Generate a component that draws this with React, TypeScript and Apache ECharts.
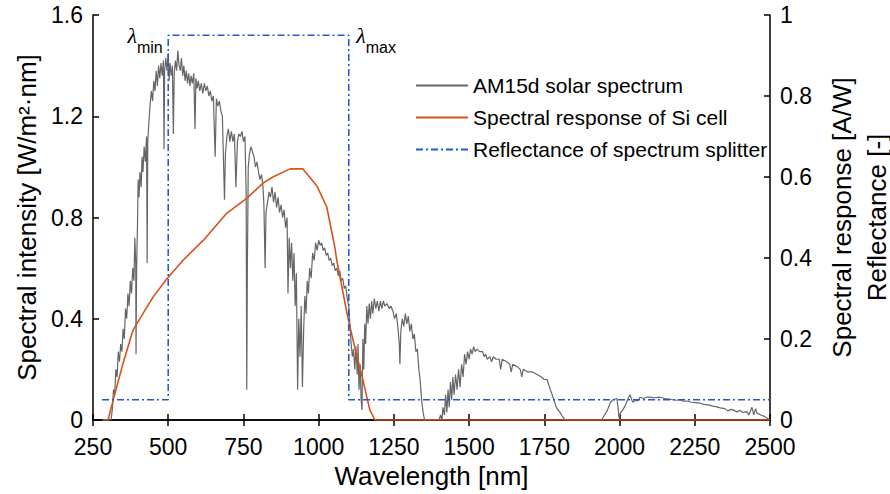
import React, { useEffect, useRef } from "react";
import * as echarts from "echarts";

// AM1.5d solar spectrum [nm, W/m²·nm]
const solarSpectrum: [number, number][] = [
  [280, 0], [300, 0], [310, 0], [315, 0.05], [318, 0.12], [322, 0.1], [326, 0.2], [330, 0.17], [334, 0.27],
  [338, 0.23], [342, 0.3], [346, 0.27], [350, 0.36], [354, 0.32], [358, 0.44], [362, 0.4], [366, 0.5],
  [370, 0.45], [374, 0.55], [378, 0.5], [382, 0.6], [386, 0.55], [389, 0.72], [392, 0.62], [393, 0.26],
  [395, 0.6], [398, 0.78], [400, 0.95], [403, 0.88], [406, 0.98], [410, 0.92], [413, 1.04], [416, 0.98],
  [420, 1.08], [424, 1.02], [428, 1.12], [430, 0.62], [432, 1.1], [436, 1.18], [440, 1.25], [444, 1.3],
  [448, 1.26], [452, 1.34], [456, 1.3], [460, 1.38], [464, 1.32], [468, 1.4], [472, 1.35], [476, 1.41],
  [480, 1.36], [484, 1.42], [486, 1.07], [488, 1.38], [492, 1.43], [496, 1.38], [500, 1.45], [503, 1.34],
  [506, 1.41], [510, 1.36], [514, 1.4], [517, 1.13], [520, 1.37], [524, 1.42], [528, 1.38], [532, 1.46],
  [536, 1.4], [540, 1.38], [544, 1.43], [548, 1.36], [552, 1.4], [556, 1.34], [560, 1.38], [564, 1.33],
  [568, 1.37], [572, 1.32], [576, 1.36], [580, 1.33], [585, 1.37], [589, 1.15], [592, 1.35], [596, 1.31],
  [600, 1.34], [605, 1.3], [610, 1.33], [615, 1.29], [620, 1.33], [625, 1.3], [630, 1.32], [635, 1.28],
  [640, 1.3], [645, 1.26], [650, 1.28], [656, 1.04], [660, 1.27], [665, 1.24], [670, 1.26], [675, 1.22],
  [680, 1.2], [687, 0.87], [690, 1.05], [695, 1.12], [700, 1.15], [705, 1.1], [710, 1.14], [715, 1.1],
  [720, 1.13], [725, 0.92], [730, 1.1], [735, 1.13], [740, 1.12], [745, 1.14], [750, 1.1], [755, 1.12],
  [759, 0.9], [761, 0.12], [763, 0.6], [766, 1.0], [770, 1.05], [775, 1.08], [780, 1.06], [785, 1.04],
  [790, 1.0], [795, 1.02], [800, 0.98], [805, 0.95], [810, 0.97], [815, 0.92], [818, 0.85], [822, 0.6],
  [825, 0.82], [830, 0.86], [835, 0.9], [840, 0.88], [845, 0.92], [850, 0.86], [855, 0.9], [860, 0.84],
  [865, 0.88], [870, 0.82], [875, 0.85], [880, 0.8], [885, 0.83], [890, 0.76], [895, 0.8], [898, 0.5],
  [902, 0.72], [906, 0.6], [910, 0.7], [914, 0.55], [918, 0.66], [922, 0.45], [926, 0.58], [930, 0.12],
  [934, 0.4], [938, 0.25], [942, 0.45], [946, 0.13], [950, 0.35], [954, 0.49], [958, 0.42], [962, 0.55],
  [966, 0.5], [970, 0.6], [975, 0.56], [980, 0.66], [985, 0.63], [990, 0.7], [995, 0.67], [1000, 0.71],
  [1005, 0.69], [1010, 0.7], [1015, 0.67], [1020, 0.68], [1025, 0.65], [1030, 0.66], [1035, 0.63],
  [1040, 0.64], [1045, 0.61], [1050, 0.62], [1055, 0.59], [1060, 0.6], [1065, 0.57], [1070, 0.59],
  [1075, 0.55], [1080, 0.56], [1085, 0.52], [1090, 0.53], [1095, 0.48], [1100, 0.45], [1104, 0.37],
  [1108, 0.3], [1112, 0.25], [1116, 0.28], [1120, 0.2], [1124, 0.29], [1128, 0.18], [1131, 0.3],
  [1134, 0.12], [1138, 0.22], [1141, 0.08], [1144, 0.04], [1147, 0.32], [1150, 0.2], [1153, 0.38],
  [1156, 0.3], [1160, 0.45], [1164, 0.38], [1168, 0.46], [1172, 0.4], [1176, 0.47], [1180, 0.42],
  [1185, 0.48], [1190, 0.44], [1195, 0.47], [1200, 0.43], [1205, 0.47], [1210, 0.44], [1215, 0.47],
  [1220, 0.45], [1227, 0.46], [1235, 0.44], [1240, 0.45], [1247, 0.43], [1252, 0.4], [1258, 0.42],
  [1263, 0.37], [1268, 0.3], [1270, 0.22], [1273, 0.35], [1278, 0.4], [1283, 0.37], [1288, 0.42],
  [1293, 0.38], [1298, 0.41], [1303, 0.35], [1308, 0.38], [1313, 0.32], [1318, 0.34], [1323, 0.27],
  [1328, 0.28], [1333, 0.2], [1337, 0.16], [1342, 0.08], [1347, 0.03], [1352, 0], [1400, 0], [1405, 0.02],
  [1410, 0], [1413, 0.05], [1418, 0.02], [1422, 0.1], [1426, 0.03], [1430, 0.12], [1434, 0.05],
  [1438, 0.15], [1442, 0.08], [1446, 0.17], [1450, 0.1], [1455, 0.18], [1460, 0.12], [1465, 0.2],
  [1470, 0.13], [1475, 0.22], [1480, 0.17], [1485, 0.26], [1490, 0.22], [1495, 0.27], [1500, 0.24],
  [1505, 0.28], [1510, 0.26], [1515, 0.29], [1520, 0.27], [1526, 0.28], [1535, 0.27], [1545, 0.27],
  [1550, 0.25], [1555, 0.26], [1560, 0.24], [1569, 0.25], [1575, 0.23], [1580, 0.25], [1590, 0.24],
  [1600, 0.24], [1605, 0.2], [1610, 0.24], [1625, 0.23], [1635, 0.22], [1640, 0.19], [1645, 0.22],
  [1660, 0.21], [1670, 0.2], [1675, 0.17], [1680, 0.2], [1695, 0.19], [1710, 0.19], [1726, 0.18],
  [1740, 0.17], [1750, 0.16], [1759, 0.16], [1770, 0.12], [1779, 0.09], [1790, 0.05], [1802, 0.03],
  [1812, 0.01], [1819, 0], [1940, 0], [1950, 0.02], [1960, 0.04], [1970, 0.07], [1978, 0.08],
  [1991, 0.085], [1995, 0.05], [1998, 0.01], [2004, 0.03], [2011, 0.04], [2020, 0.06], [2030, 0.09],
  [2035, 0.1], [2040, 0.08], [2045, 0.07], [2052, 0.08], [2060, 0.075], [2068, 0.09], [2080, 0.085],
  [2090, 0.09], [2101, 0.09], [2115, 0.088], [2134, 0.09], [2150, 0.085], [2165, 0.083], [2177, 0.08],
  [2190, 0.078], [2200, 0.08], [2212, 0.074], [2224, 0.075], [2240, 0.07], [2255, 0.069], [2267, 0.067],
  [2280, 0.062], [2295, 0.06], [2310, 0.055], [2323, 0.052], [2335, 0.048], [2350, 0.045], [2360, 0.036],
  [2370, 0.042], [2377, 0.04], [2390, 0.032], [2400, 0.038], [2410, 0.03], [2423, 0.033], [2430, 0.02],
  [2440, 0.05], [2446, 0.02], [2452, 0.045], [2457, 0.027], [2470, 0.02], [2480, 0.015], [2490, 0.008],
  [2500, 0],
];

// Spectral response of Si cell [nm, A/W]
const siResponse: [number, number][] = [
  [283, 0], [300, 0], [317, 0.049], [350, 0.14], [383, 0.222], [417, 0.264], [450, 0.304], [495, 0.348],
  [550, 0.395], [617, 0.444], [695, 0.511], [762, 0.548], [815, 0.585], [848, 0.6], [905, 0.62],
  [948, 0.62], [994, 0.578], [1027, 0.526], [1054, 0.425], [1060, 0.395], [1094, 0.264], [1114, 0.198],
  [1147, 0.099], [1170, 0.025], [1187, 0], [2500, 0],
];

// Reflectance of spectrum splitter [nm, -]
const splitterReflectance: [number, number][] = [
  [280, 0.05], [500, 0.05], [500, 0.95], [1100, 0.95], [1100, 0.05], [2500, 0.05],
];

const wavelengthTicks = { min: 250, max: 2500, interval: 250 };
const intensityTicks = { min: 0, max: 1.6, interval: 0.4 };
const responseTicks = { min: 0, max: 1, interval: 0.2 };
const lambdaMin = 500;
const lambdaMax = 1100;

const seriesNames = [
  "AM15d solar spectrum",
  "Spectral response of Si cell",
  "Reflectance of spectrum splitter",
];

const FONT = "'Liberation Sans', Arial, Helvetica, sans-serif";

export default function App() {
  const ref = useRef<HTMLDivElement>(null);

  useEffect(() => {
    document.body.style.margin = "0";
    if (!ref.current) return;
    const chart = echarts.init(ref.current, null, { renderer: "svg" });
    const axisLine = { show: true, lineStyle: { color: "#000", width: 1.5 } };
    const tick = { show: true, inside: true, length: 6, lineStyle: { color: "#000", width: 1.5 } };
    const lambdaRich = {
      l: { fontSize: 22, fontFamily: "'Liberation Serif', serif", fontStyle: "italic", color: "#000", lineHeight: 20 },
      s: { fontSize: 16, fontFamily: FONT, color: "#000", lineHeight: 16, padding: [24, 0, 0, 0] },
    };
    const plain = (v: number) => String(v);
    chart.setOption({
      animation: false,
      backgroundColor: "#fff",
      textStyle: { fontFamily: FONT },
      grid: { left: 93, right: 120, top: 15, bottom: 74, containLabel: false, outerBoundsMode: "none" },
      legend: {
        data: seriesNames,
        orient: "vertical",
        left: 415,
        top: 75,
        padding: 0,
        itemWidth: 52,
        itemHeight: 14,
        itemGap: 11,
        itemStyle: { color: "rgba(0,0,0,0)", borderWidth: 0, opacity: 0 },
        textStyle: { fontSize: 21, color: "#000", fontFamily: FONT, lineHeight: 20 },
      },
      xAxis: [
        {
          type: "value",
          ...wavelengthTicks,
          position: "bottom",
          name: "Wavelength [nm]",
          nameLocation: "middle",
          nameGap: 42,
          nameTextStyle: { fontSize: 26, color: "#000", fontFamily: FONT, lineHeight: 26 },
          axisLine,
          axisTick: tick,
          axisLabel: { fontSize: 23, color: "#000", margin: 15, fontFamily: FONT, formatter: plain },
          splitLine: { show: false },
        },
        {
          type: "value",
          ...wavelengthTicks,
          position: "top",
          axisLine,
          axisTick: tick,
          axisLabel: { show: false },
          splitLine: { show: false },
        },
      ],
      yAxis: [
        {
          type: "value",
          ...intensityTicks,
          position: "left",
          name: "Spectral intensity [W/m²·nm]",
          nameLocation: "middle",
          nameRotate: 90,
          nameGap: 52,
          nameTextStyle: { fontSize: 26, color: "#000", fontFamily: FONT, lineHeight: 26 },
          axisLine,
          axisTick: tick,
          axisLabel: { fontSize: 23, color: "#000", margin: 10, fontFamily: FONT, formatter: plain },
          splitLine: { show: false },
        },
        {
          type: "value",
          ...responseTicks,
          position: "right",
          name: "Spectral response [A/W]\nReflectance [-]",
          nameLocation: "middle",
          nameRotate: 90,
          nameGap: 54,
          nameTextStyle: { fontSize: 26, color: "#000", fontFamily: FONT, lineHeight: 35 },
          axisLine,
          axisTick: tick,
          axisLabel: { fontSize: 23, color: "#000", margin: 10, fontFamily: FONT, formatter: plain },
          splitLine: { show: false },
        },
      ],
      series: [
        {
          name: seriesNames[0],
          type: "line",
          xAxisIndex: 0,
          yAxisIndex: 0,
          data: solarSpectrum,
          symbol: "none",
          lineStyle: { color: "#666666", width: 1.2 },
          itemStyle: { color: "#666666" },
          z: 2,
        },
        {
          name: seriesNames[1],
          type: "line",
          xAxisIndex: 0,
          yAxisIndex: 1,
          data: siResponse,
          symbol: "none",
          lineStyle: { color: "#D95319", width: 1.6 },
          itemStyle: { color: "#D95319" },
          z: 3,
        },
        {
          name: seriesNames[2],
          type: "line",
          xAxisIndex: 0,
          yAxisIndex: 1,
          data: splitterReflectance,
          symbol: "none",
          lineStyle: { color: "#1f5bd6", width: 1.6, type: [7, 3, 2, 3] },
          itemStyle: { color: "#1f5bd6" },
          z: 4,
          markPoint: {
            symbol: "circle",
            symbolSize: 1,
            itemStyle: { color: "rgba(0,0,0,0)" },
            data: [
              {
                coord: [lambdaMin, splitterReflectance[2][1]],
                label: { show: true, position: "left", distance: 5, offset: [0, 0], formatter: "{l|λ}{s|min}", rich: lambdaRich },
              },
              {
                coord: [lambdaMax, splitterReflectance[3][1]],
                label: { show: true, position: "right", distance: 7, offset: [0, 0], formatter: "{l|λ}{s|max}", rich: lambdaRich },
              },
            ],
          },
        },
      ],
    });
    return () => chart.dispose();
  }, []);

  return <div ref={ref} style={{ width: 890, height: 494 }} />;
}
